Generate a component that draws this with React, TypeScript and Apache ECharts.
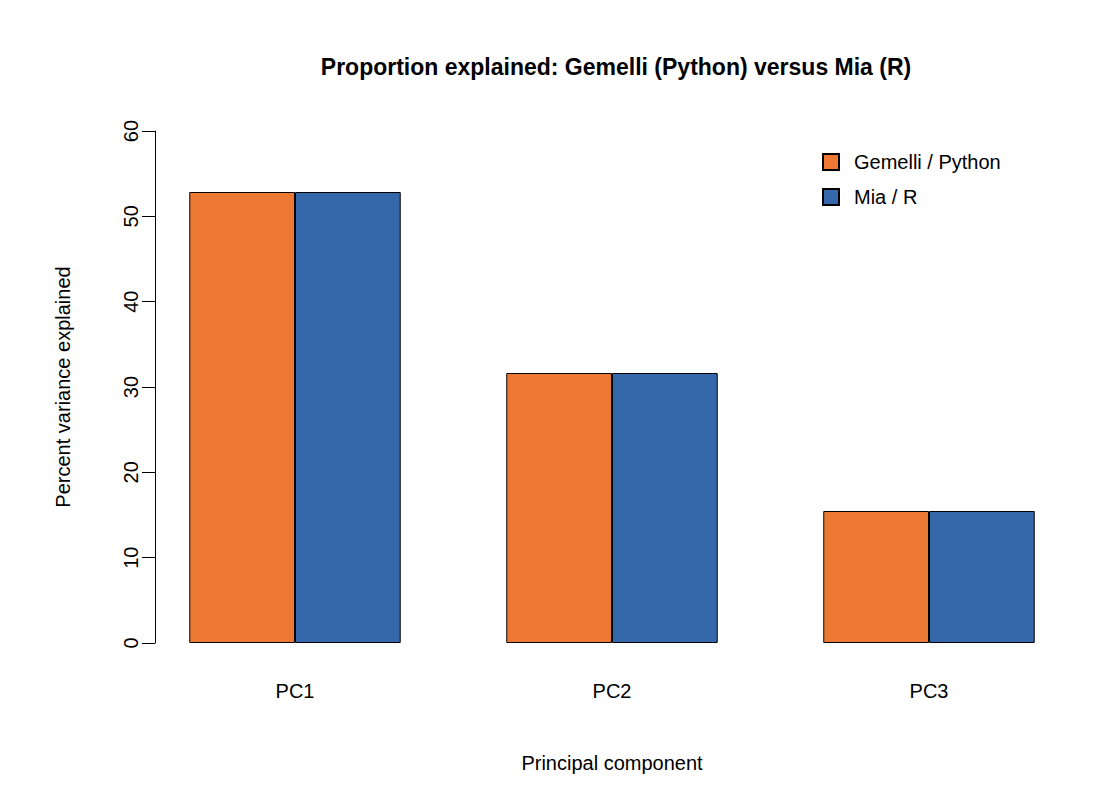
import React, { useRef, useEffect } from "react";
import * as echarts from "echarts";

const components = ["PC1", "PC2", "PC3"];
const gemelliPython = [52.85, 31.64, 15.47];
const miaR = [52.85, 31.64, 15.47];
const yTicks = [0, 60, 10];

const FONT = "Liberation Sans, Arial, sans-serif";

const App: React.FC = () => {
  const ref = useRef<HTMLDivElement>(null);

  useEffect(() => {
    if (!ref.current) return;
    const chart = echarts.init(ref.current, null, { renderer: "svg" });
    const barStyle = { borderColor: "#000", borderWidth: 1 };
    chart.setOption({
      animation: false,
      backgroundColor: "#fff",
      textStyle: { fontFamily: FONT },
      title: {
        text: "Proportion explained: Gemelli (Python) versus Mia (R)",
        left: 611,
        top: 50,
        textAlign: "center",
        textStyle: { fontSize: 23, fontWeight: "bold", color: "#000", fontFamily: FONT },
      },
      legend: {
        orient: "vertical",
        left: 817,
        top: 147,
        itemWidth: 16,
        itemHeight: 16,
        itemGap: 15,
        icon: "rect",
        textStyle: { fontSize: 20, color: "#000", padding: [0, 0, 0, 10] },
        data: ["Gemelli / Python", "Mia / R"],
      },
      grid: { left: 136.5, right: 12.5, top: 131, bottom: 157 },
      xAxis: {
        type: "category",
        data: components,
        axisLine: { show: false },
        axisTick: { show: false },
        axisLabel: { fontSize: 20, color: "#000", margin: 38 },
        name: "Principal component",
        nameLocation: "middle",
        nameGap: 110,
        nameTextStyle: { fontSize: 20, color: "#000" },
      },
      yAxis: {
        type: "value",
        min: yTicks[0],
        max: yTicks[1],
        interval: yTicks[2],
        offset: -18.5,
        splitLine: { show: false },
        axisLine: { show: true, lineStyle: { color: "#000" } },
        axisTick: { show: true, length: 13, lineStyle: { color: "#000" } },
        axisLabel: { fontSize: 20, color: "#000", rotate: 90, margin: 24, verticalAlign: "middle" },
        name: "Percent variance explained",
        nameLocation: "middle",
        nameGap: 82,
        nameTextStyle: { fontSize: 20, color: "#000" },
      },
      series: [
        {
          name: "Gemelli / Python",
          type: "bar",
          data: gemelliPython,
          barGap: "0%",
          barCategoryGap: "33.3%",
          itemStyle: { color: "#ED7834", ...barStyle },
        },
        {
          name: "Mia / R",
          type: "bar",
          data: miaR,
          itemStyle: { color: "#3567AB", ...barStyle },
        },
      ],
    });
    return () => chart.dispose();
  }, []);

  return (
    <div
      ref={ref}
      style={{ position: "fixed", left: 0, top: 0, width: 1100, height: 800 }}
    />
  );
};

export default App;
